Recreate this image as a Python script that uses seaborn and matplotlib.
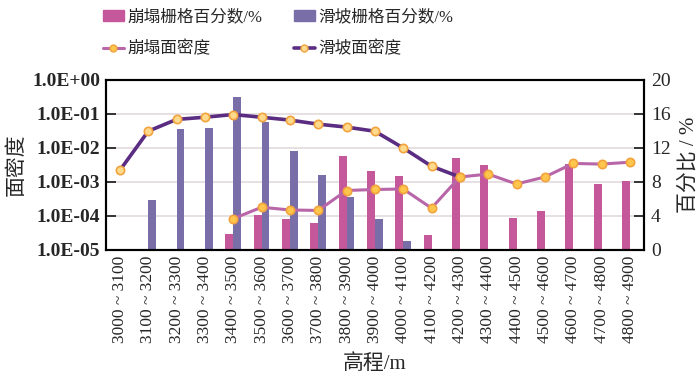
import numpy as np
import pandas as pd
import seaborn as sns
import matplotlib
matplotlib.use("Agg")
from matplotlib import pyplot as plt

# data
elevation = ["3000 ~ 3100", "3100 ~ 3200", "3200 ~ 3300", "3300 ~ 3400", "3400 ~ 3500",
             "3500 ~ 3600", "3600 ~ 3700", "3700 ~ 3800", "3800 ~ 3900", "3900 ~ 4000",
             "4000 ~ 4100", "4100 ~ 4200", "4200 ~ 4300", "4300 ~ 4400", "4400 ~ 4500",
             "4500 ~ 4600", "4600 ~ 4700", "4700 ~ 4800", "4800 ~ 4900"]
nan = np.nan
collapse_pct = [nan, nan, nan, nan, 1.85, 4.1, 3.6, 3.15, 11.0, 9.3, 8.7, 1.75,
                10.85, 10.05, 3.8, 4.6, 10.1, 7.8, 8.1]
landslide_pct = [0.15, 5.9, 14.2, 14.4, 18.0, 15.0, 11.6, 8.8, 6.2, 3.6, 1.0, 0.16,
                 0.08, nan, nan, nan, nan, nan, nan]
collapse_dens = [nan, nan, nan, nan, 8.3e-5, 1.8e-4, 1.5e-4, 1.45e-4, 5.6e-4, 6.0e-4,
                 6.2e-4, 1.7e-4, 1.4e-3, 1.7e-3, 8.7e-4, 1.4e-3, 3.5e-3, 3.35e-3, 3.8e-3]
landslide_dens = [2.2e-3, 3.1e-2, 6.9e-2, 8.0e-2, 9.6e-2, 8.0e-2, 6.6e-2, 5.0e-2, 4.1e-2,
                  3.1e-2, 1.0e-2, 2.9e-3, 1.4e-3, nan, nan, nan, nan, nan, nan]

lab_c_bar = "崩塌栅格百分数/%"
lab_l_bar = "滑坡栅格百分数/%"
lab_c_line = "崩塌面密度"
lab_l_line = "滑坡面密度"

pink = "#C5589A"
purple = "#7A6EA9"
pink_line = "#B866A8"
purple_line = "#5A2D82"

sns.set_style("white")
plt.rcParams['font.family'] = ['Liberation Serif', 'Noto Sans CJK SC']
plt.rcParams['axes.unicode_minus'] = False

bars = pd.DataFrame({
    'elev': elevation * 2,
    'pct': collapse_pct + landslide_pct,
    'kind': [lab_c_bar] * len(elevation) + [lab_l_bar] * len(elevation),
}).dropna()

fig = plt.figure(figsize=(7, 3.77), dpi=100)
ax = fig.add_axes([0.151, 0.337, 0.769, 0.451])
ax2 = ax.twinx()

# bars on the right (percent) axis
sns.barplot(data=bars, x='elev', y='pct', hue='kind', order=elevation,
            hue_order=[lab_c_bar, lab_l_bar], palette=[pink, purple],
            width=0.56, gap=0, saturation=1, linewidth=0, ax=ax2, legend=False)
ax2.set_ylim(0, 20)
ax2.set_yticks([0, 4, 8, 12, 16, 20])
ax2.set_ylabel("百分比 / %", fontsize=15, labelpad=6)
ax2.yaxis.grid(True, color="#E2DADE", linewidth=1.2)
ax2.set_axisbelow(True)
ax2.tick_params(axis='y', direction='in', length=7, width=1.3, labelsize=14, pad=5)

# density lines on the left (log) axis
pos = np.arange(len(elevation))
sns.lineplot(x=pos, y=landslide_dens, ax=ax, color=purple_line, linewidth=2.6,
             marker='o', markersize=6, markerfacecolor="#FFDA8C",
             markeredgecolor="#F2A33E", markeredgewidth=1.2)
sns.lineplot(x=pos, y=collapse_dens, ax=ax, color=pink_line, linewidth=2.2,
             marker='o', markersize=6, markerfacecolor="#FFC64D",
             markeredgecolor="#F2A33E", markeredgewidth=1.2)
ax.set_yscale('log')
ax.set_ylim(1e-5, 1)
decades = [1e-5, 1e-4, 1e-3, 1e-2, 1e-1, 1]
ax.set_yticks(decades)
ax.set_yticklabels(["1.0E-05", "1.0E-04", "1.0E-03", "1.0E-02", "1.0E-01", "1.0E+00"],
                   fontweight='bold')
ax.yaxis.set_minor_locator(matplotlib.ticker.NullLocator())
ax.set_ylabel("面密度", fontsize=15, labelpad=4)
ax.tick_params(axis='y', direction='in', length=7, width=1.3, labelsize=14, pad=4)

ax.set_xlim(-0.5, len(elevation) - 0.5)
ax.set_xticks(pos)
ax.set_xticklabels(elevation, rotation=90, fontsize=12.5)
ax.tick_params(axis='x', length=0, pad=4)
ax.set_xlabel("高程/m", fontsize=15, labelpad=8)

ax.set_zorder(ax2.get_zorder() + 1)
ax.patch.set_visible(False)
for a in (ax, ax2):
    for s in a.spines.values():
        s.set_color("black")
        s.set_linewidth(1.5)

# legend
handles = [
    plt.Rectangle((0, 0), 1, 1, color=pink),
    plt.Line2D([], [], color=pink_line, lw=2.2, marker='o', markersize=5,
               markerfacecolor="#FFC64D", markeredgecolor="#F2A33E"),
    plt.Rectangle((0, 0), 1, 1, color=purple),
    plt.Line2D([], [], color=purple_line, lw=2.6, marker='o', markersize=5,
               markerfacecolor="#FFDA8C", markeredgecolor="#F2A33E"),
]
labels = [lab_c_bar, lab_c_line, lab_l_bar, lab_l_line]
fig.legend(handles, labels, ncol=2, loc='center', bbox_to_anchor=(0.397, 0.912),
           frameon=False, fontsize=12, handlelength=1.25, handletextpad=0.2,
           columnspacing=1.9, labelspacing=0.95, handleheight=0.6)

fig.savefig("out.png", dpi=100)
